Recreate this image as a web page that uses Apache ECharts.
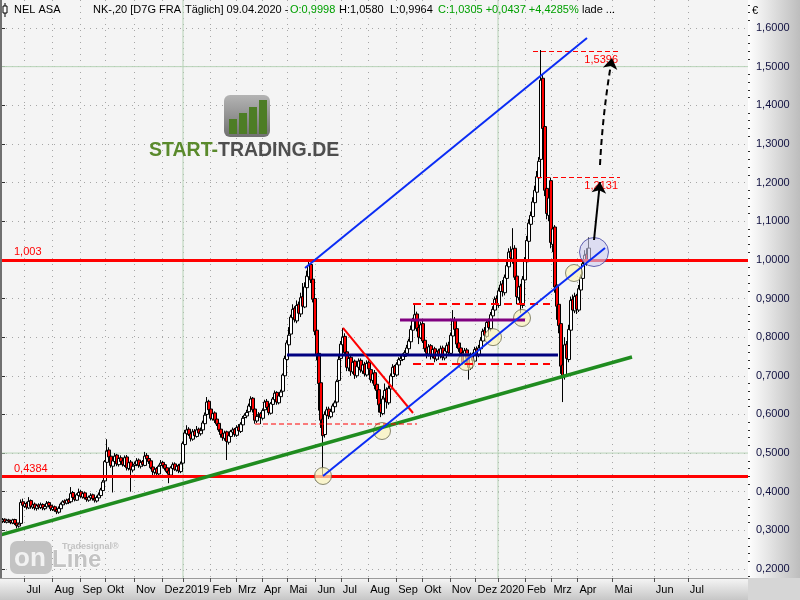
<!DOCTYPE html>
<html><head><meta charset="utf-8">
<script src="https://cdn.jsdelivr.net/npm/echarts@6/dist/echarts.min.js"></script>
<style>html,body{margin:0;padding:0;background:#f4f4f4}#c{width:800px;height:600px}</style>
</head><body><div id="c"></div><script>
// ---- candle data (one candle per slot, slot = x-axis unit) ----
const opens = [
0.320,0.324,0.329,0.321,0.327,0.325,0.319,0.328,0.319,0.311,
0.318,0.374,0.362,0.370,0.358,0.377,0.360,0.368,0.357,0.366,
0.359,0.367,0.356,0.361,0.372,0.365,0.354,0.361,0.354,0.347,
0.356,0.366,0.376,0.370,0.380,0.374,0.398,0.386,0.378,0.390,
0.400,0.386,0.397,0.385,0.378,0.384,0.392,0.383,0.376,0.384,
0.390,0.403,0.428,0.476,0.508,0.492,0.466,0.478,0.495,0.470,
0.488,0.480,0.468,0.490,0.460,0.477,0.456,0.468,0.470,0.482,
0.466,0.478,0.468,0.494,0.486,0.480,0.464,0.450,0.460,0.446,
0.468,0.476,0.470,0.462,0.454,0.443,0.460,0.472,0.456,0.468,
0.452,0.474,0.522,0.550,0.562,0.550,0.536,0.557,0.543,0.562,
0.550,0.560,0.576,0.600,0.634,0.614,0.588,0.604,0.588,0.577,
0.562,0.550,0.538,0.555,0.528,0.543,0.554,0.562,0.546,0.568,
0.556,0.573,0.592,0.596,0.607,0.620,0.642,0.614,0.583,0.597,
0.602,0.590,0.612,0.634,0.620,0.603,0.626,0.638,0.657,0.630,
0.646,0.660,0.700,0.742,0.780,0.808,0.850,0.875,0.842,0.885,
0.860,0.905,0.878,0.928,0.956,0.988,0.950,0.900,0.818,0.758,
0.682,0.588,0.548,0.598,0.614,0.594,0.606,0.620,0.632,0.688,
0.745,0.780,0.802,0.762,0.720,0.748,0.710,0.738,0.700,0.722,
0.740,0.712,0.730,0.702,0.735,0.716,0.688,0.708,0.678,0.664,
0.628,0.602,0.642,0.665,0.630,0.666,0.698,0.725,0.702,0.728,
0.740,0.742,0.750,0.758,0.770,0.788,0.818,0.845,0.860,0.825,
0.798,0.835,0.792,0.772,0.756,0.778,0.750,0.770,0.743,0.765,
0.752,0.772,0.746,0.762,0.780,0.758,0.803,0.845,0.822,0.785,
0.772,0.760,0.733,0.767,0.748,0.720,0.755,0.738,0.770,0.753,
0.770,0.790,0.818,0.802,0.840,0.822,0.855,0.870,0.900,0.882,
0.918,0.938,0.915,0.952,0.982,1.022,1.002,1.030,0.958,0.902,
0.932,0.882,0.948,0.995,1.048,1.092,1.112,1.148,1.175,1.212,
1.260,1.470,1.345,1.185,1.115,1.205,1.040,1.085,0.935,0.885,
0.835,0.728,0.698,0.782,0.742,0.818,0.898,0.868,0.908,0.870,
0.922,0.952,0.988,1.015,0.9998];
const closes = [
0.325,0.328,0.322,0.326,0.324,0.320,0.327,0.318,0.312,0.316,
0.372,0.365,0.369,0.360,0.375,0.362,0.366,0.358,0.364,0.360,
0.366,0.358,0.362,0.370,0.364,0.356,0.360,0.352,0.348,0.357,
0.368,0.374,0.371,0.378,0.372,0.395,0.385,0.380,0.392,0.398,
0.388,0.395,0.384,0.380,0.386,0.390,0.382,0.378,0.385,0.392,
0.405,0.425,0.478,0.505,0.490,0.468,0.480,0.492,0.472,0.486,
0.478,0.470,0.488,0.462,0.475,0.458,0.466,0.472,0.480,0.468,
0.476,0.470,0.492,0.485,0.478,0.462,0.452,0.458,0.448,0.466,
0.474,0.468,0.460,0.452,0.445,0.462,0.470,0.458,0.466,0.454,
0.472,0.525,0.552,0.560,0.548,0.538,0.555,0.545,0.560,0.552,
0.558,0.578,0.598,0.632,0.612,0.590,0.602,0.585,0.575,0.560,
0.548,0.540,0.552,0.530,0.545,0.556,0.560,0.548,0.566,0.558,
0.575,0.590,0.598,0.605,0.622,0.640,0.612,0.585,0.595,0.600,
0.592,0.610,0.632,0.618,0.605,0.628,0.640,0.655,0.632,0.648,
0.658,0.702,0.745,0.785,0.805,0.852,0.872,0.845,0.882,0.862,
0.902,0.880,0.930,0.958,0.985,0.948,0.898,0.815,0.755,0.680,
0.585,0.545,0.600,0.612,0.596,0.608,0.622,0.630,0.685,0.742,
0.782,0.800,0.760,0.722,0.745,0.712,0.735,0.702,0.725,0.738,
0.715,0.728,0.705,0.732,0.718,0.690,0.705,0.675,0.662,0.625,
0.605,0.640,0.662,0.632,0.668,0.700,0.722,0.705,0.730,0.742,
0.745,0.752,0.760,0.772,0.790,0.820,0.842,0.858,0.822,0.800,
0.832,0.790,0.770,0.758,0.775,0.752,0.768,0.745,0.762,0.755,
0.770,0.748,0.765,0.778,0.760,0.805,0.842,0.820,0.782,0.770,
0.758,0.735,0.765,0.745,0.722,0.752,0.740,0.768,0.755,0.772,
0.792,0.815,0.805,0.838,0.825,0.858,0.872,0.898,0.885,0.920,
0.935,0.918,0.955,0.985,1.020,1.005,1.028,0.955,0.905,0.930,
0.885,0.950,0.998,1.050,1.095,1.115,1.150,1.180,1.215,1.255,
1.465,1.340,1.180,1.120,1.160,1.045,1.080,0.930,0.880,0.830,
0.725,0.700,0.780,0.745,0.820,0.895,0.870,0.905,0.872,0.925,
0.955,0.990,1.012,0.998,1.0305];
const highs = [
0.330,0.332,0.331,0.329,0.330,0.327,0.330,0.330,0.322,0.320,
0.380,0.382,0.374,0.374,0.386,0.380,0.371,0.372,0.368,0.370,
0.372,0.370,0.366,0.376,0.375,0.368,0.364,0.364,0.358,0.362,
0.372,0.378,0.380,0.382,0.383,0.412,0.402,0.390,0.396,0.408,
0.405,0.400,0.400,0.390,0.390,0.396,0.395,0.388,0.390,0.398,
0.410,0.430,0.482,0.536,0.515,0.496,0.486,0.500,0.498,0.492,
0.494,0.486,0.494,0.495,0.480,0.482,0.470,0.478,0.487,0.486,
0.482,0.482,0.503,0.500,0.490,0.482,0.468,0.464,0.464,0.470,
0.482,0.480,0.474,0.466,0.458,0.466,0.476,0.476,0.470,0.472,
0.478,0.530,0.560,0.572,0.567,0.555,0.562,0.562,0.570,0.566,
0.566,0.584,0.605,0.645,0.638,0.618,0.608,0.608,0.592,0.580,
0.567,0.555,0.558,0.558,0.550,0.560,0.566,0.565,0.572,0.575,
0.580,0.596,0.603,0.612,0.628,0.647,0.645,0.618,0.600,0.606,
0.606,0.615,0.638,0.640,0.624,0.632,0.645,0.662,0.660,0.652,
0.664,0.706,0.752,0.792,0.826,0.858,0.885,0.880,0.895,0.892,
0.915,0.940,0.942,0.972,1.000,0.992,0.960,0.905,0.826,0.762,
0.690,0.600,0.608,0.620,0.620,0.614,0.628,0.636,0.690,0.752,
0.790,0.824,0.810,0.768,0.755,0.752,0.742,0.742,0.730,0.745,
0.745,0.735,0.736,0.740,0.740,0.722,0.712,0.715,0.685,0.668,
0.632,0.648,0.680,0.670,0.675,0.706,0.730,0.728,0.735,0.748,
0.752,0.758,0.766,0.780,0.796,0.830,0.850,0.883,0.866,0.830,
0.840,0.845,0.798,0.780,0.782,0.782,0.775,0.775,0.768,0.770,
0.778,0.778,0.770,0.786,0.788,0.812,0.870,0.852,0.826,0.790,
0.780,0.765,0.772,0.772,0.752,0.760,0.760,0.775,0.776,0.780,
0.800,0.822,0.826,0.845,0.848,0.865,0.880,0.905,0.908,0.928,
0.945,0.948,0.962,0.995,1.030,1.035,1.082,1.038,0.965,0.940,
0.938,0.958,1.007,1.062,1.105,1.125,1.162,1.192,1.230,1.266,
1.543,1.480,1.360,1.200,1.175,1.213,1.095,1.090,0.945,0.900,
0.842,0.745,0.800,0.790,0.832,0.905,0.910,0.915,0.912,0.935,
0.962,0.998,1.025,1.030,1.058];
const lows = [
0.317,0.320,0.319,0.318,0.320,0.316,0.316,0.314,0.305,0.307,
0.315,0.360,0.358,0.354,0.355,0.356,0.355,0.352,0.351,0.354,
0.355,0.352,0.352,0.358,0.360,0.350,0.350,0.348,0.342,0.343,
0.352,0.362,0.366,0.367,0.368,0.370,0.380,0.375,0.376,0.386,
0.384,0.382,0.380,0.374,0.374,0.380,0.377,0.372,0.372,0.380,
0.386,0.398,0.422,0.470,0.484,0.462,0.398,0.472,0.466,0.465,
0.470,0.465,0.464,0.455,0.455,0.400,0.450,0.462,0.466,0.462,
0.460,0.465,0.466,0.480,0.472,0.458,0.440,0.444,0.440,0.442,
0.462,0.462,0.455,0.448,0.422,0.440,0.456,0.454,0.452,0.448,
0.448,0.470,0.518,0.545,0.544,0.530,0.532,0.540,0.540,0.546,
0.545,0.555,0.572,0.595,0.605,0.585,0.584,0.578,0.570,0.555,
0.540,0.532,0.532,0.482,0.522,0.538,0.548,0.542,0.542,0.550,
0.552,0.568,0.585,0.590,0.600,0.615,0.605,0.576,0.578,0.590,
0.575,0.586,0.606,0.612,0.598,0.600,0.620,0.632,0.625,0.626,
0.640,0.655,0.695,0.735,0.772,0.800,0.840,0.838,0.836,0.855,
0.852,0.872,0.875,0.920,0.950,0.940,0.890,0.805,0.740,0.610,
0.565,0.438,0.540,0.590,0.588,0.590,0.600,0.615,0.626,0.680,
0.738,0.772,0.752,0.712,0.712,0.700,0.705,0.692,0.695,0.715,
0.708,0.705,0.698,0.698,0.710,0.682,0.680,0.665,0.640,0.605,
0.593,0.598,0.628,0.615,0.625,0.660,0.690,0.698,0.698,0.722,
0.735,0.738,0.745,0.752,0.765,0.782,0.812,0.838,0.815,0.782,
0.795,0.785,0.762,0.745,0.750,0.742,0.745,0.735,0.738,0.742,
0.745,0.740,0.740,0.758,0.752,0.752,0.798,0.812,0.772,0.762,
0.750,0.728,0.728,0.738,0.690,0.715,0.730,0.735,0.748,0.748,
0.765,0.785,0.798,0.798,0.818,0.815,0.848,0.862,0.878,0.876,
0.910,0.905,0.908,0.945,0.975,0.995,0.990,0.948,0.885,0.895,
0.862,0.875,0.940,0.988,1.040,1.082,1.105,1.140,1.165,1.205,
1.250,1.320,1.165,1.105,1.100,1.030,1.020,0.915,0.845,0.810,
0.705,0.632,0.690,0.730,0.735,0.810,0.858,0.862,0.860,0.865,
0.915,0.945,0.980,0.985,0.9964];

// ---- axis ticks ----
const monthTicks  = [11.8,25.8,39.8,52,66.5,80.8,91,104.8,117.5,130.5,143.2,157.2,169.9,183.6,197.6,210.6,224.4,237.3,248.5,262,275.2,288.2,305.8,326.4,343.4];
const monthLabels = ['Jul','Aug','Sep','Okt','Nov','Dez','2019','Feb','Mrz','Apr','Mai','Jun','Jul','Aug','Sep','Okt','Nov','Dez','2020','Feb','Mrz','Apr','Mai','Jun','Jul'];
const yearTicks = [91, 248.5];
const priceTicks = [0.2,0.3,0.4,0.5,0.6,0.7,0.8,0.9,1.0,1.1,1.2,1.3,1.4,1.5,1.6];
const majorLevels = [0.5, 1.5];

// ---- header texts ----
const headerParts = [
  ['NEL ASA', 14, '#000000'],
  ['NK-,20 [D7G FRA', 93, '#000000'],
  ['Täglich] 09.04.2020 -', 185, '#000000'],
  ['O:0,9998', 290, '#00a000'],
  ['H:1,0580', 339, '#000000'],
  ['L:0,9964', 390, '#000000'],
  ['C:1,0305 +0,0437 +4,4285%', 438, '#00a000'],
  ['lade ...', 582, '#000000']
];

// ---- drawn annotations (slot, price) ----
const redLevels = [1.003, 0.4384];
const redLevelLabels = ['1,003', '0,4384'];
const greenTrend = [[-0.5, 0.2880], [315.5, 0.7486]];
const blueLower = [[161, 0.4407], [302, 1.0307]];
const blueUpper = [[152, 0.9789], [293, 1.5741]];
const navyLevel = [[143, 0.7538], [278.5, 0.7538]];
const purpleLevel = [[199.5, 0.8444], [262, 0.8444]];
const rangeTop = [[206, 0.8858], [274.5, 0.8858]];
const rangeBottom = [[206, 0.7305], [274.5, 0.7305]];
const lowDashed = [[127, 0.5752], [208, 0.5752]];
const redDown = [[171, 0.8237], [206, 0.6037]];
const targets = [[268, 309.5, 1.2131, '1,2131'], [266, 309.5, 1.5396, '1,5396']];
const arrowSolid = [[296.5, 1.0514], [299.5, 1.2015]];
const arrowDashed = [[299.5, 1.2455], [305.5, 1.5224]];
const circles = [[161, 0.4407], [190.5, 0.5571], [232.5, 0.7357], [246, 0.8000], [260.5, 0.8495], [286.5, 0.9660]];
const bigCircle = [[296.5, 1.0203]];

const YMIN = 0.17671, YMAX = 1.67246;
const FONT = 'Liberation Sans';
const fmtPrice = v => v.toFixed(4).replace('.', ',');
const minorTicks = [];
priceTicks.concat([0.1]).forEach(t => { [0.02,0.04,0.06,0.08].forEach(d => { const v = +(t + d).toFixed(2); if (v > YMIN && v < YMAX && priceTicks.indexOf(v) < 0) minorTicks.push(v); }); });

const candleData = closes.map((c, i) => [i, opens[i], c, lows[i], highs[i]]);

function seg(pts, color, width, type, z) {
  return { type: 'line', data: pts, symbol: 'none', silent: true, animation: false, z: z || 10,
    lineStyle: { color: color, width: width, type: type || 'solid' } };
}

const series = [];
majorLevels.forEach(v => series.push(seg([[-0.5, v], [373.5, v]], '#b7d3b7', 1, 'solid', 1)));
yearTicks.forEach(u => series.push(seg([[u, YMIN], [u, YMAX]], '#b7d3b7', 1, 'solid', 1)));
series.push({
  type: 'candlestick', data: candleData, encode: { x: 0, y: [1, 2, 3, 4] },
  barWidth: 4, z: 3, animation: false, silent: true,
  itemStyle: { color: '#ffffff', color0: '#ff0000', borderColor: '#000000', borderColor0: '#000000', borderWidth: 1 }
});
series.push({ type: 'scatter', data: circles, symbol: 'circle', symbolSize: 17, z: 5, silent: true, animation: false,
  itemStyle: { color: 'rgba(250,244,185,0.85)', borderColor: '#6b6b50', borderWidth: 1 } });
series.push({ type: 'scatter', data: bigCircle, symbol: 'circle', symbolSize: 29, z: 5, silent: true, animation: false,
  itemStyle: { color: 'rgba(205,205,240,0.75)', borderColor: '#4040a0', borderWidth: 1 } });
series.push(seg(greenTrend, '#1f8c1f', 3.5));
series.push(seg(navyLevel, '#000080', 3));
series.push(seg(purpleLevel, '#800080', 3));
series.push(seg(rangeTop, '#ff0000', 2, [8, 5]));
series.push(seg(rangeBottom, '#ff0000', 2, [8, 5]));
series.push(seg(lowDashed, '#ff0000', 1, [5, 3]));
series.push(seg(redDown, '#ff0000', 2));
series.push(seg(blueLower, '#0a2cf5', 2, 'solid', 11));
series.push(seg(blueUpper, '#0a2cf5', 2, 'solid', 11));
series.push({
  type: 'line', data: [], z: 9, silent: true, animation: false,
  markLine: {
    silent: true, animation: false, symbol: ['none', 'none'],
    data: redLevels.map((v, i) => ({ yAxis: v,
      lineStyle: { color: '#ff0000', width: 3, type: 'solid' },
      label: { show: true, formatter: redLevelLabels[i], position: 'insideStartTop', distance: [14, 2], color: '#ff0000', fontSize: 11, fontFamily: FONT } }))
      .concat(targets.map(t => [
        { coord: [t[0], t[2]], lineStyle: { color: '#ff0000', width: 1, type: [5, 3] },
          label: { show: true, formatter: t[3], position: 'insideEndBottom', distance: [2, 3], color: '#ff0000', fontSize: 11, fontFamily: FONT } },
        { coord: [t[1], t[2]] }]))
  }
});
series.push({ type: 'lines', coordinateSystem: 'cartesian2d', z: 12, silent: true, animation: false,
  symbol: ['none', 'arrow'], symbolSize: 11,
  lineStyle: { color: '#000000', width: 2, opacity: 1 },
  data: [{ coords: arrowSolid }] });
series.push({ type: 'lines', coordinateSystem: 'cartesian2d', z: 12, silent: true, animation: false,
  symbol: ['none', 'arrow'], symbolSize: 11,
  lineStyle: { color: '#000000', width: 2, type: [6, 4], opacity: 1, curveness: 0.03 },
  data: [{ coords: arrowDashed }] });

function txt(x, y, s, color) {
  return { type: 'text', x: x, y: y, z: 20, silent: true,
    style: { text: s, fill: color || '#000', font: '11px "' + FONT + '"', verticalAlign: 'middle', align: 'left' } };
}

const option = {
  animation: false,
  backgroundColor: '#f4f4f4',
  grid: { left: 0, right: 52, top: 0, bottom: 22, containLabel: false },
  xAxis: {
    type: 'value', min: -0.5, max: 373.5,
    axisLine: { show: true, lineStyle: { color: '#9a9a9a', width: 1 } },
    axisTick: { show: true, customValues: monthTicks, length: 4, lineStyle: { color: '#505050' } },
    axisLabel: { show: true, customValues: monthTicks, align: 'left', margin: 6, padding: [0, 0, 0, 2],
      color: '#000000', fontSize: 11, fontFamily: FONT,
      formatter: v => { let k = 0, d = 1e9; monthTicks.forEach((m, i) => { if (Math.abs(m - v) < d) { d = Math.abs(m - v); k = i; } }); return monthLabels[k]; } },
    splitLine: { show: true, lineStyle: { color: '#a6a6a6', type: [1, 5], width: 1 } }
  },
  yAxis: [{
    type: 'value', position: 'right', min: YMIN, max: YMAX,
    axisLine: { show: true, lineStyle: { color: '#8a8a8a', width: 1 } },
    axisTick: { show: true, customValues: priceTicks, length: 4, lineStyle: { color: '#303030' } },
    axisLabel: { show: true, customValues: priceTicks, margin: 8, color: '#101040', fontSize: 11, fontFamily: FONT, formatter: fmtPrice },
    splitLine: { show: true, lineStyle: { color: '#a6a6a6', type: [1, 5], width: 1 } }
  }, {
    type: 'value', position: 'right', min: YMIN, max: YMAX,
    axisLine: { show: false },
    axisTick: { show: true, customValues: minorTicks, length: 2, lineStyle: { color: '#303030' } },
    axisLabel: { show: false }, splitLine: { show: false }
  }],
  series: series,
  graphic: { elements: [
    { type: 'rect', shape: { x: 748, y: 0, width: 52, height: 578 }, z: -10, silent: true,
      style: { fill: new echarts.graphic.LinearGradient(0, 0, 1, 0, [{ offset: 0, color: '#ffffff' }, { offset: 1, color: '#bdbdbd' }]) } },
    { type: 'rect', shape: { x: 0, y: 578, width: 748, height: 22 }, z: -10, silent: true,
      style: { fill: new echarts.graphic.LinearGradient(0, 0, 0, 1, [{ offset: 0, color: '#f6f6f6' }, { offset: 1, color: '#c6c6c6' }]) } },
    { type: 'rect', shape: { x: 748, y: 578, width: 52, height: 22 }, z: -10, silent: true, style: { fill: '#d6d6d6' } },
    { type: 'rect', shape: { x: 0, y: 0, width: 2, height: 578 }, z: 20, silent: true, style: { fill: '#707070' } },
    txt(752, 11, '€', '#000'),
    { type: 'rect', shape: { x: 3, y: 6, width: 4, height: 7 }, z: 20, silent: true, style: { fill: '#fff', stroke: '#000', lineWidth: 1 } },
    { type: 'line', shape: { x1: 5, y1: 3, x2: 5, y2: 17 }, z: 19, silent: true, style: { stroke: '#000', lineWidth: 1 } }
  ].concat(headerParts.map(p => txt(p[1], 10, p[0], p[2]))).concat([
    { type: 'rect', shape: { x: 224, y: 95, width: 46, height: 42, r: 6 }, z: 1, silent: true,
      style: { fill: new echarts.graphic.LinearGradient(0, 0, 0, 1, [{ offset: 0, color: '#b4b4b4' }, { offset: 1, color: '#707070' }]) } },
    { type: 'rect', shape: { x: 229, y: 119, width: 8, height: 15 }, z: 2, silent: true, style: { fill: '#4d7d25' } },
    { type: 'rect', shape: { x: 239, y: 113, width: 8, height: 21 }, z: 2, silent: true, style: { fill: '#4d7d25' } },
    { type: 'rect', shape: { x: 249, y: 107, width: 8, height: 27 }, z: 2, silent: true, style: { fill: '#4d7d25' } },
    { type: 'rect', shape: { x: 259, y: 100, width: 8, height: 34 }, z: 2, silent: true, style: { fill: '#4d7d25' } },
    { type: 'text', x: 149, y: 151, z: 2, silent: true,
      style: { text: '{g|START-}{d|TRADING.DE}', verticalAlign: 'middle', font: 'bold 19.5px "' + FONT + '"',
        rich: { g: { fill: '#5a8a2c', font: 'bold 19.5px "' + FONT + '"' }, d: { fill: '#4e4e4e', font: 'bold 19.5px "' + FONT + '"' } } } },
    { type: 'rect', shape: { x: 10, y: 541, width: 42, height: 33, r: 7 }, z: 1, silent: true, style: { fill: '#c3c3c3' } },
    { type: 'text', x: 14, y: 559, z: 2, silent: true, style: { text: 'on', fill: '#f2f2f2', font: 'bold 26px "' + FONT + '"', verticalAlign: 'middle' } },
    { type: 'text', x: 52, y: 560, z: 2, silent: true, style: { text: 'Line', fill: '#c3c3c3', stroke: '#ffffff', lineWidth: 1, font: 'bold 24px "' + FONT + '"', verticalAlign: 'middle' } },
    { type: 'text', x: 62, y: 547, z: 2, silent: true, style: { text: 'Tradesignal®', fill: '#c3c3c3', font: 'bold 9px "' + FONT + '"', verticalAlign: 'middle' } }
  ]) }
};

const chart = echarts.init(document.getElementById('c'), null, { width: 800, height: 600 });
chart.setOption(option);
</script></body></html>
